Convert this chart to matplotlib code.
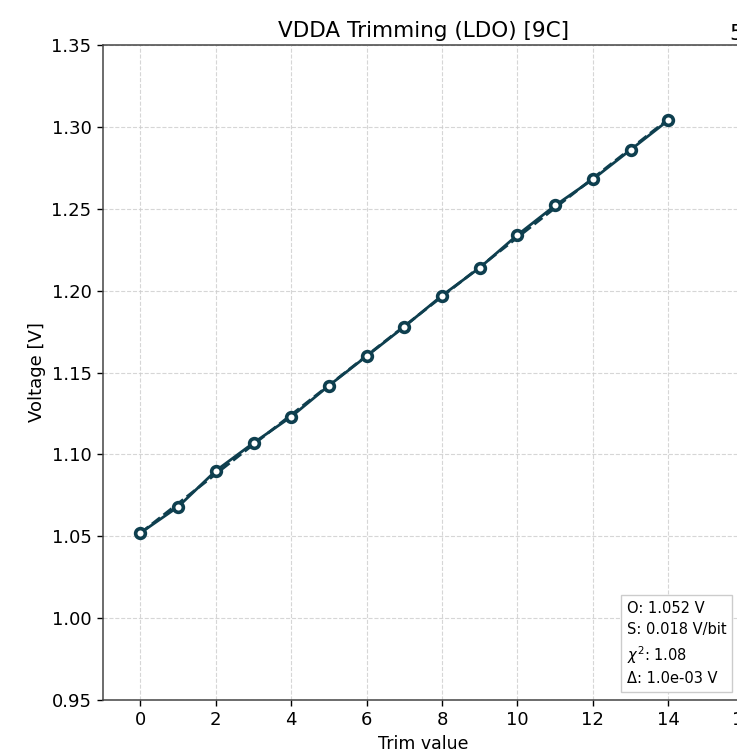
import numpy as np
from matplotlib import pyplot as plt

# trim code -> measured VDDA
trim = [0, 1, 2, 3, 4, 5, 6, 7, 8, 9, 10, 11, 12, 13, 14]
voltage = [1.052, 1.068, 1.090, 1.107, 1.123, 1.142, 1.160, 1.178,
           1.197, 1.214, 1.234, 1.252, 1.268, 1.286, 1.304]
stats = ["O: 1.052 V", "S: 0.018 V/bit", r"$\chi^2$: 1.08", "Δ: 1.0e-03 V"]

color = "#0e3f4f"

fig = plt.figure(figsize=(7.37, 7.53), dpi=100)
ax = fig.add_axes([102.7 / 737, 1 - 700 / 753, 641 / 737, 655 / 753])

# fit line (dashed) under the measured points
k, b = np.polyfit(trim, voltage, 1)
xs = np.array(trim)
ax.plot(xs, k * xs + b, "--", color=color, lw=2)
ax.plot(trim, voltage, "-o", color=color, lw=2, ms=7,
        mfc="white", mec=color, mew=2.6)

ax.set_xlim(-1, 16)
ax.set_ylim(0.95, 1.35)
ax.set_xticks(range(0, 17, 2))
ax.set_yticks(np.arange(0.95, 1.351, 0.05))
ax.tick_params(labelsize=13, length=4.5, width=1.0)
ax.grid(True, linestyle="--", color="#cccccc", alpha=0.8)
ax.set_axisbelow(True)

ax.set_title("VDDA Trimming (LDO) [9C]", fontsize=15.5)
ax.set_xlabel("Trim value", fontsize=12.5)
ax.set_ylabel("Voltage [V]", fontsize=13)

# fit summary, lower right
ax.text(0.818, 0.021, "\n".join(stats), transform=ax.transAxes,
        ha="left", va="bottom", fontsize=10.5, linespacing=1.45,
        bbox=dict(boxstyle="square,pad=0.4", fc="white", ec="#cccccc"))

for s in ax.spines.values():
    s.set_color("#444444")
    s.set_linewidth(1.1)

# clipped title of the neighbouring panel
fig.text(729 / 737, 1 - 40 / 753, "5", fontsize=15.5)

fig.savefig("out.png", dpi=100)
